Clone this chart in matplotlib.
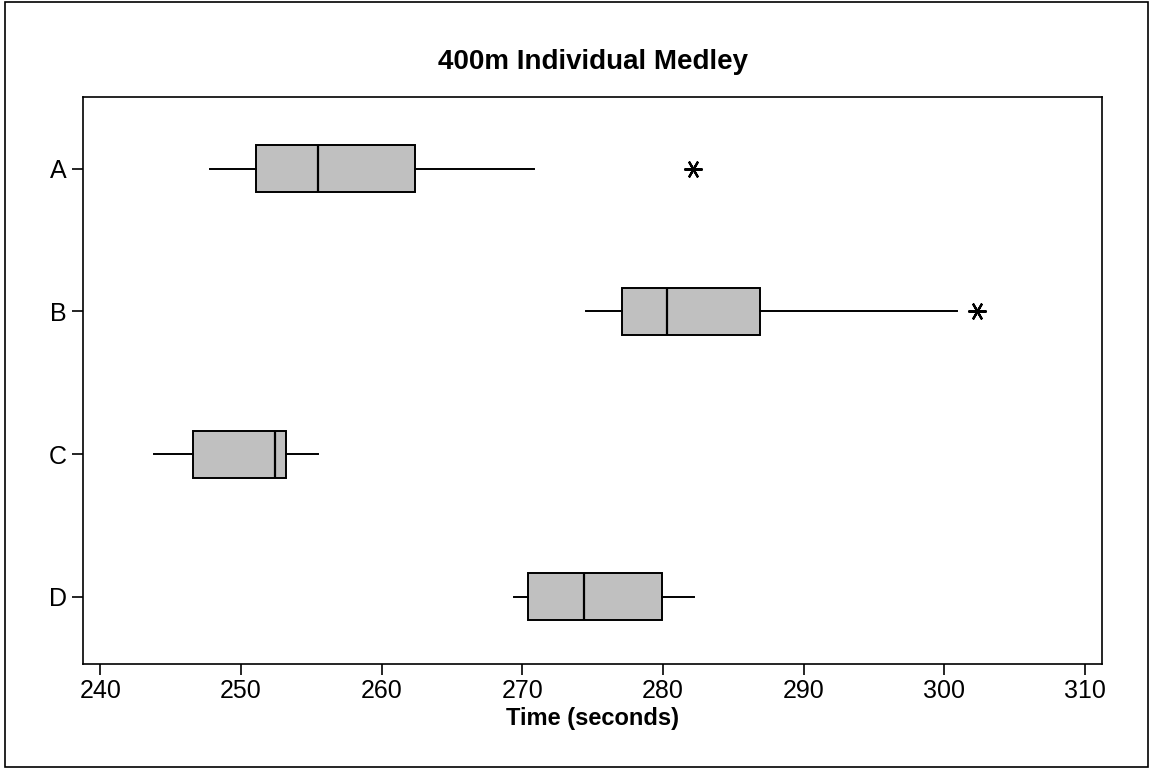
import matplotlib.pyplot as plt
from matplotlib.patches import Rectangle

# data (seconds)
groups = ['A', 'B', 'C', 'D']
whisker_low = [247.8, 274.5, 243.8, 269.4]
q1 = [251.1, 277.1, 246.6, 270.4]
median = [255.5, 280.3, 252.4, 274.4]
q3 = [262.4, 286.9, 253.2, 279.9]
whisker_high = [270.8, 300.9, 255.5, 282.2]
outliers = [[282.1], [302.3], [], []]

plt.rcParams['font.family'] = ['Liberation Sans', 'DejaVu Sans']

stats = []
for i, g in enumerate(groups):
    stats.append({'label': g, 'whislo': whisker_low[i], 'q1': q1[i], 'med': median[i],
                  'q3': q3[i], 'whishi': whisker_high[i], 'fliers': outliers[i]})

fig = plt.figure(figsize=(11.51, 7.68), dpi=100)
ax = fig.add_axes([0.0724, 0.1355, 0.885, 0.738])

pos = [1, 2, 3, 4]
ax.bxp(stats, positions=pos, vert=False, widths=0.33, patch_artist=True, showcaps=False,
       boxprops=dict(facecolor='#c0c0c0', edgecolor='black', linewidth=1.4),
       medianprops=dict(color='black', linewidth=1.6),
       whiskerprops=dict(color='black', linewidth=1.4),
       flierprops=dict(marker=(6, 2, 90), markersize=13, markeredgecolor='black',
                       markeredgewidth=1.6, linestyle='none'))

ax.set_ylim(4.47, 0.5)
ax.set_xlim(238.8, 311.2)
ax.set_xticks(range(240, 311, 10))
ax.set_yticks(pos)
ax.set_yticklabels(groups)
ax.tick_params(axis='both', labelsize=18, length=8, width=1.2, direction='out')
ax.tick_params(axis='y', pad=4)
ax.tick_params(axis='x', pad=3)
for s in ax.spines.values():
    s.set_linewidth(1.2)

ax.set_xlabel('Time (seconds)', fontsize=17, fontweight='bold', labelpad=3)
ax.set_title('400m Individual Medley', fontsize=20, fontweight='bold', pad=20)

# frame round the whole figure
fig.patches.append(Rectangle((0.004, 0.001), 0.993, 0.996, transform=fig.transFigure,
                             fill=False, edgecolor='black', linewidth=1.2))

fig.savefig('out.png', dpi=100)
